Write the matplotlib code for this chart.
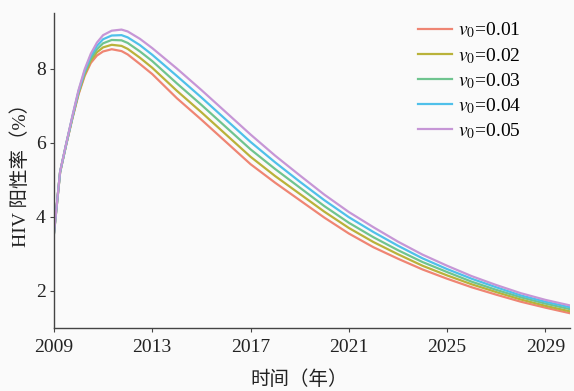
import matplotlib
matplotlib.use("Agg")
import matplotlib.pyplot as plt

years = [2009.0, 2009.25, 2009.5, 2009.75, 2010.0, 2010.25, 2010.5, 2010.75, 2011.0, 2011.35,
         2011.75, 2012.0, 2012.5, 2013, 2014, 2015, 2016, 2017, 2018, 2019, 2020, 2021, 2022,
         2023, 2024, 2025, 2026, 2027, 2028, 2029, 2030]

v001 = [3.55, 5.20, 5.95, 6.65, 7.30, 7.80, 8.15, 8.35, 8.46, 8.52, 8.47, 8.38, 8.12, 7.85, 7.20,
        6.62, 6.02, 5.42, 4.92, 4.45, 3.98, 3.55, 3.18, 2.87, 2.58, 2.33, 2.10, 1.90, 1.71, 1.55, 1.40]
v002 = [3.55, 5.20, 5.96, 6.67, 7.33, 7.84, 8.21, 8.44, 8.57, 8.64, 8.61, 8.53, 8.29, 8.02, 7.40,
        6.82, 6.22, 5.62, 5.10, 4.62, 4.14, 3.70, 3.32, 2.99, 2.68, 2.42, 2.18, 1.97, 1.77, 1.60, 1.45]
v003 = [3.55, 5.21, 5.96, 6.68, 7.36, 7.89, 8.27, 8.52, 8.68, 8.77, 8.76, 8.69, 8.46, 8.20, 7.60,
        7.02, 6.42, 5.82, 5.29, 4.79, 4.29, 3.84, 3.45, 3.10, 2.78, 2.51, 2.25, 2.03, 1.83, 1.66, 1.51]
v004 = [3.55, 5.21, 5.97, 6.70, 7.39, 7.93, 8.34, 8.61, 8.79, 8.89, 8.90, 8.84, 8.63, 8.37, 7.80,
        7.22, 6.62, 6.02, 5.47, 4.95, 4.45, 3.99, 3.59, 3.22, 2.88, 2.59, 2.33, 2.10, 1.88, 1.71, 1.56]
v005 = [3.55, 5.22, 5.98, 6.72, 7.42, 7.98, 8.40, 8.70, 8.90, 9.02, 9.05, 9.00, 8.80, 8.55, 8.00,
        7.42, 6.82, 6.22, 5.65, 5.12, 4.60, 4.13, 3.72, 3.33, 2.98, 2.68, 2.40, 2.16, 1.94, 1.76, 1.61]

series = [v001, v002, v003, v004, v005]
labels = [r'$v_0$=0.01', r'$v_0$=0.02', r'$v_0$=0.03', r'$v_0$=0.04', r'$v_0$=0.05']
colors = ['#EF8573', '#B9B23A', '#6FC48F', '#4FC0EA', '#C696D6']

xticks = [2009, 2013, 2017, 2021, 2025, 2029]
yticks = [2, 4, 6, 8]

plt.rcParams['font.family'] = ['Liberation Serif', 'Noto Sans CJK SC']
plt.rcParams['mathtext.fontset'] = 'stix'

bg = '#fafafa'
fig = plt.figure(figsize=(5.74, 3.91), dpi=100, facecolor=bg)
ax = fig.add_axes([0.094, 0.161, 0.899, 0.806], facecolor=bg)

for vals, lab, c in zip(series, labels, colors):
    ax.plot(years, vals, color=c, lw=1.6, label=lab)

ax.set_xlim(2009, 2030)
ax.set_ylim(1.0, 9.5)
ax.set_xticks(xticks)
ax.set_yticks(yticks)
for s in ['top', 'right']:
    ax.spines[s].set_visible(False)
for s in ['left', 'bottom']:
    ax.spines[s].set_color('#444444')
    ax.spines[s].set_linewidth(1.0)
ax.tick_params(axis='both', direction='out', length=3, width=0.8, color='#444444',
               labelsize=14, labelcolor='#222222')
ax.tick_params(axis='x', pad=5)
ax.tick_params(axis='y', pad=3)

ax.set_xlabel('时间（年）', fontsize=14, color='#222222', labelpad=12)
ax.xaxis.set_label_coords(0.475, -0.135)
ax.set_ylabel('HIV 阳性率（%）', fontsize=14, color='#222222', labelpad=4)

leg = ax.legend(loc='upper left', bbox_to_anchor=(0.69, 1.0), frameon=False, fontsize=14,
                handlelength=1.75, handletextpad=0.3, labelspacing=0.28, borderaxespad=0.0)

fig.savefig('out.png', dpi=100, facecolor=bg)
